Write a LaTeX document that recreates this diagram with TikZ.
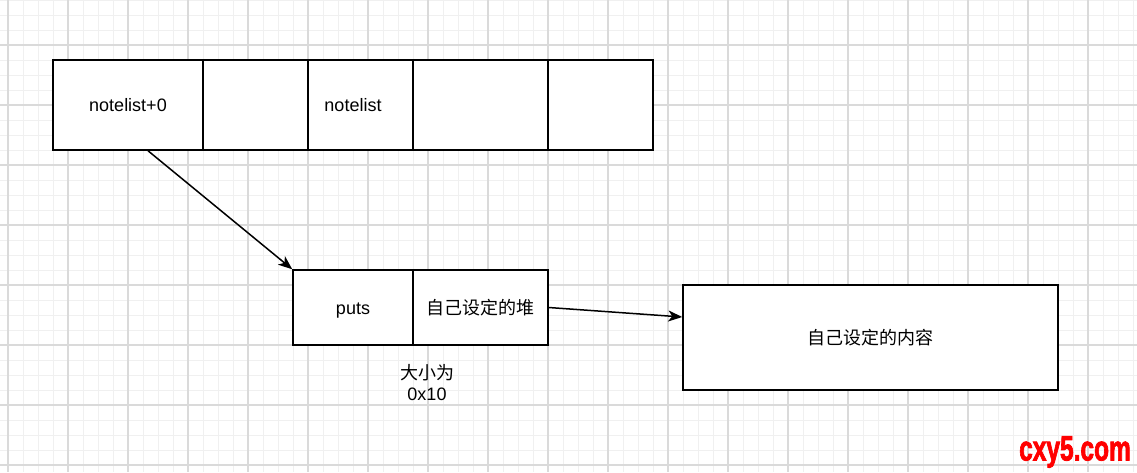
\documentclass[tikz,border=0pt]{standalone}
\usepackage{fontspec}
\setmainfont{Liberation Sans}
\newfontfamily\cjk{Noto Sans CJK SC}
\newfontfamily\wmfont[FakeBold=2.5]{Liberation Sans Bold}
\usetikzlibrary{arrows.meta}
\definecolor{gridmajor}{HTML}{DADADA}
\definecolor{gridminor}{HTML}{F0F0F0}
\definecolor{wmred}{HTML}{FF0000}
\tikzset{
  cell/.style={draw=black, line width=1.5pt, fill=white, inner sep=0pt, text height=13pt, text depth=0pt, font=\fontsize{18pt}{21pt}\selectfont},
  link/.style={draw=black, line width=1.5pt, -{Stealth[length=14pt,width=11pt,inset=4pt]}},
  plain/.style={inner sep=0pt, font=\fontsize{18pt}{21pt}\selectfont, align=center}
}
\begin{document}
\begin{tikzpicture}[x=1pt,y=-1pt]
\useasboundingbox (0,0) rectangle (1137,472);
\fill[white] (0,0) rectangle (1137,472);
% grid minor
\foreach \gx in {8,23,...,1137} \draw[gridminor, line width=1pt] (\gx,0) -- (\gx,472);
\foreach \gy in {0,15,...,472} \draw[gridminor, line width=1pt] (0,\gy) -- (1137,\gy);
% grid major
\foreach \gx in {8,68,...,1137} \draw[gridmajor, line width=1.5pt] (\gx,0) -- (\gx,472);
\foreach \gy in {45,105,...,472} \draw[gridmajor, line width=1.5pt] (0,\gy) -- (1137,\gy);
% top row
\node[cell, minimum width=150pt, minimum height=90pt] (c1) at (128,105) {notelist+0};
\node[cell, minimum width=105pt, minimum height=90pt] (c2) at (255.5,105) {};
\node[cell, minimum width=105pt, minimum height=90pt] (c3) at (360.5,105) {\hspace*{-15pt}notelist};
\node[cell, minimum width=135pt, minimum height=90pt] (c4) at (480.5,105) {};
\node[cell, minimum width=105pt, minimum height=90pt] (c5) at (600.5,105) {};
% bottom row
\node[cell, minimum width=120pt, minimum height=75pt] (p1) at (353,307.5) {puts};
\node[cell, minimum width=135pt, minimum height=75pt] (p2) at (480.5,307.5) {\cjk 自己设定的堆};
\node[plain] (size) at (427,382.5) {{\cjk 大小为}\\0x10};
% right box
\node[cell, minimum width=375pt, minimum height=105pt] (r) at (870.5,337.5) {\cjk 自己设定的内容};
% connectors
\coordinate (s1) at ([xshift=20pt]c1.south);
\coordinate (e2) at ([yshift=20.5pt]r.west);
\draw[link] (s1) -- (p1.north west);
\draw[link] (p2.east) -- (e2);
% watermark
\node[inner sep=0pt, text=wmred, font=\fontsize{35pt}{35pt}\wmfont] (wm) at (1075,452) {\scalebox{0.7}[1]{cxy5.com}};
\end{tikzpicture}
\end{document}
